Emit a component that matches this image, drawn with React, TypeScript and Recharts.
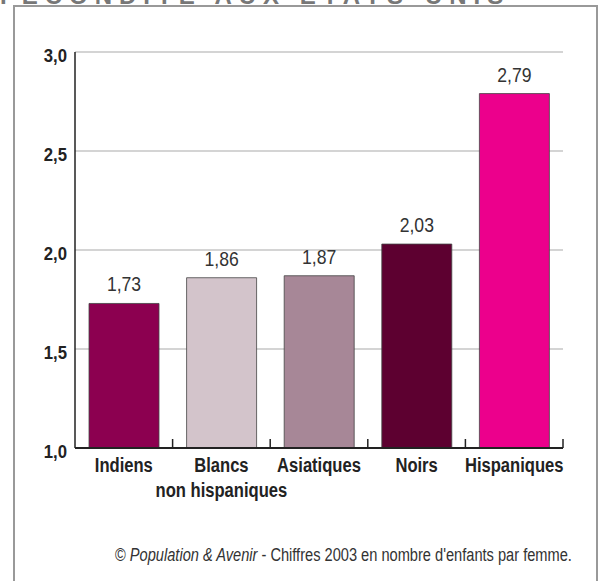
import React from 'react';
import { BarChart, Bar, XAxis, YAxis, CartesianGrid, LabelList, Cell } from 'recharts';

const categories = ['Indiens', 'Blancs\nnon hispaniques', 'Asiatiques', 'Noirs', 'Hispaniques'];
const fertility = [1.73, 1.86, 1.87, 2.03, 2.79];
const barColors = ['#8C0050', '#D3C4CB', '#A78797', '#5D0030', '#EC008C'];
const yTicks = [1.0, 1.5, 2.0, 2.5, 3.0];
const title = 'FÉCONDITÉ AUX ÉTATS-UNIS';

const data = categories.map((c, i) => ({ name: c, value: fertility[i] }));

const FONT = '"Liberation Sans", Arial, sans-serif';
const CHART_W = 602;
const CHART_H = 510;
const MARGIN = { top: 52, right: 39, left: 0, bottom: 2 };
const Y_W = 75;
const HALF_BAND = (CHART_W - MARGIN.right - Y_W) / categories.length / 2;

const fmt1 = (v: number) => v.toFixed(1).replace('.', ',');
const fmt2 = (v: number) => v.toFixed(2).replace('.', ',');

type NTProps = {
  x: number;
  y: number;
  anchor: 'start' | 'middle' | 'end';
  size: number;
  sx: number;
  weight?: string;
  fill?: string;
  children: React.ReactNode;
};

const NarrowText = ({ x, y, anchor, size, sx, weight = 'normal', fill = '#222', children }: NTProps) => (
  <g transform={`translate(${x},${y}) scale(${sx},1)`}>
    <text x={0} y={0} textAnchor={anchor} fontFamily={FONT} fontSize={size} fontWeight={weight} fill={fill}>
      {children}
    </text>
  </g>
);

const CatTick = (props: any) => {
  const { x, y, payload } = props;
  const lines = String(payload.value).split('\n');
  return (
    <g>
      <line x1={x + HALF_BAND} x2={x + HALF_BAND} y1={y} y2={y - 9} stroke="#222" strokeWidth={1.5} />
      {lines.map((l, i) => (
        <NarrowText key={i} x={x} y={y + 24 + i * 25} anchor="middle" size={21} sx={0.79} weight="bold">
          {l}
        </NarrowText>
      ))}
    </g>
  );
};

const ValTick = (props: any) => {
  const { x, y, payload } = props;
  return (
    <NarrowText x={x} y={y + 10} anchor="end" size={19} sx={0.88} weight="bold">
      {fmt1(Number(payload.value))}
    </NarrowText>
  );
};

const BarValue = (props: any) => {
  const { x, y, width, value } = props;
  return (
    <NarrowText x={Number(x) + Number(width) / 2} y={Number(y) - 12} anchor="middle" size={20} sx={0.88} fill="#333">
      {fmt2(Number(value))}
    </NarrowText>
  );
};

export default function App() {
  return (
    <div style={{ position: 'absolute', left: 0, top: 0, width: 602, height: 581, overflow: 'hidden', background: '#fff' }}>
      <div
        style={{
          position: 'absolute',
          left: 13,
          top: 5,
          width: 581,
          height: 640,
          border: '2px solid #999',
        }}
      />
      <svg style={{ position: 'absolute', left: 0, top: 0 }} width={602} height={20}>
        <text x={0} y={4} fontFamily={FONT} fontWeight="bold" fontSize={24} fill="#777" letterSpacing={7}>
          {title}
        </text>
      </svg>
      <div style={{ position: 'absolute', left: 0, top: 0 }}>
        <BarChart width={CHART_W} height={CHART_H} data={data} margin={MARGIN}>
          <CartesianGrid vertical={false} stroke="#aaa" strokeWidth={1.2} />
          <YAxis
            width={Y_W}
            domain={[1, 3]}
            ticks={yTicks}
            allowDataOverflow
            axisLine={{ stroke: '#222', strokeWidth: 1.5 }}
            tickLine={false}
            tick={<ValTick />}
          />
          <XAxis
            dataKey="name"
            height={60}
            interval={0}
            tickSize={0}
            tickMargin={0}
            tickLine={false}
            axisLine={{ stroke: '#222', strokeWidth: 2 }}
            tick={<CatTick />}
          />
          <Bar dataKey="value" barSize={70} stroke="#444" strokeWidth={0.8} isAnimationActive={false}>
            {data.map((d, i) => (
              <Cell key={d.name} fill={barColors[i]} />
            ))}
            <LabelList dataKey="value" content={<BarValue />} />
          </Bar>
        </BarChart>
      </div>
      <svg style={{ position: 'absolute', left: 0, top: 530 }} width={602} height={45}>
        <NarrowText x={115} y={31} anchor="start" size={19} sx={0.77} fill="#333">
          ©{' '}
          <tspan fontStyle="italic">Population &amp; Avenir</tspan>
          {" - Chiffres 2003 en nombre d'enfants par femme."}
        </NarrowText>
      </svg>
    </div>
  );
}
